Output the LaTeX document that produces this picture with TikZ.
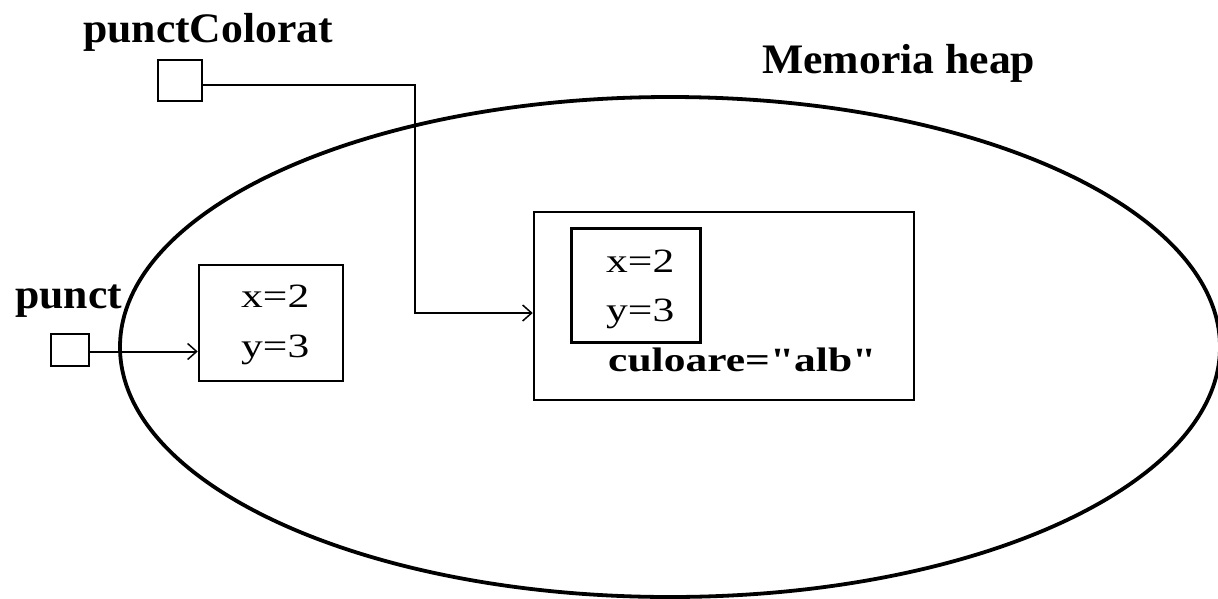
\documentclass[tikz,border=0pt]{standalone}
\usepackage{fontspec}
\setmainfont{Liberation Serif}
\newfontfamily\labelfont[FakeStretch=1.04]{Liberation Serif}
\newfontfamily\fieldfont[FakeStretch=1.28]{Liberation Serif}
\usetikzlibrary{arrows.meta}

\begin{document}
\begin{tikzpicture}[x=1pt,y=-1pt,
  varlabel/.style={anchor=base west, inner sep=0pt,
    font=\labelfont\bfseries\fontsize{42}{50}\selectfont},
  field/.style={anchor=base west, inner sep=0pt,
    font=\fieldfont\fontsize{34}{40}\selectfont},
  fieldbold/.style={field, font=\fieldfont\bfseries\fontsize{34}{40}\selectfont},
  ptrbox/.style={draw, line width=2.5pt, inner sep=0pt},
  objbox/.style={draw, line width=2.5pt, inner sep=0pt},
  link/.style={line width=2pt,
    -{Straight Barb[length=9pt,width=16pt,line width=1.5pt]}},
  heapline/.style={line width=3.8pt}]

\useasboundingbox (0,0) rectangle (1218,598);
\fill[white] (0,0) rectangle (1218,598);

% heap region
\draw[heapline] (670,347) ellipse [x radius=550, y radius=250];
\node[varlabel] (heaplbl) at (762,73) {Memoria heap};

% reference variables
\node[varlabel] (lblC) at (83,42) {punctColorat};
\node[ptrbox, minimum width=44pt, minimum height=41pt] (ptrC) at (180,80.5) {};
\node[varlabel] (lblP) at (15,308) {punct};
\node[ptrbox, minimum width=38pt, minimum height=32pt] (ptrP) at (70,350) {};

% Punct object
\node[objbox, minimum width=144pt, minimum height=116pt] (objP) at (271,323) {};
\node[field] (px) at (241,307) {x=2};
\node[field] (py) at (241,357) {y=3};

% PunctColorat object
\node[objbox, minimum width=380pt, minimum height=188pt] (objC) at (724,306) {};
\node[objbox, line width=3pt, minimum width=129pt, minimum height=114pt] (base) at (635.5,285) {};
\node[field] (cx) at (606,272) {x=2};
\node[field] (cy) at (606,321) {y=3};
\node[fieldbold] (col) at (608,371) {culoare="alb"};

% references
\coordinate (bend) at (415,313);
\draw[link] ([yshift=-4.5pt]ptrC.east) -| (bend) -- (bend -| objC.west);
\draw[link] ([yshift=-1.5pt]ptrP.east) -- ([yshift=-1.5pt]ptrP.east -| objP.west);
\end{tikzpicture}
\end{document}
